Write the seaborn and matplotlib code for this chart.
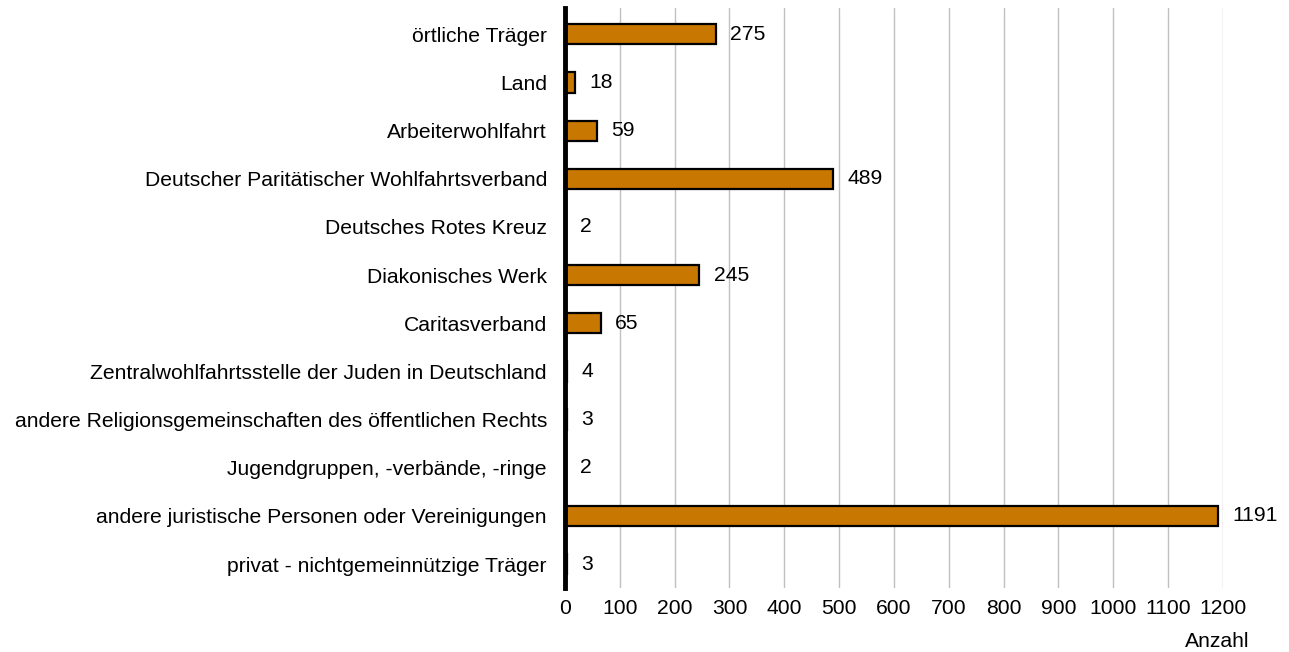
import pandas as pd
import matplotlib.pyplot as plt
import seaborn as sns

traeger = [
    "örtliche Träger",
    "Land",
    "Arbeiterwohlfahrt",
    "Deutscher Paritätischer Wohlfahrtsverband",
    "Deutsches Rotes Kreuz",
    "Diakonisches Werk",
    "Caritasverband",
    "Zentralwohlfahrtsstelle der Juden in Deutschland",
    "andere Religionsgemeinschaften des öffentlichen Rechts",
    "Jugendgruppen, -verbände, -ringe",
    "andere juristische Personen oder Vereinigungen",
    "privat - nichtgemeinnützige Träger",
]
anzahl = [275, 18, 59, 489, 2, 245, 65, 4, 3, 2, 1191, 3]
x_ticks = list(range(0, 1300, 100))

sns.set_style("white")
plt.rcParams["font.family"] = ["Liberation Sans", "DejaVu Sans"]
plt.rcParams["text.color"] = "black"
plt.rcParams["xtick.color"] = "black"
plt.rcParams["ytick.color"] = "black"
plt.rcParams["axes.labelcolor"] = "black"
FS = 15.2

df = pd.DataFrame({"traeger": traeger, "anzahl": anzahl})

fig = plt.figure(figsize=(12.89, 6.52), dpi=100)
ax = fig.add_axes([0.4383, 0.098, 0.5105, 0.89])

sns.barplot(data=df, y="traeger", x="anzahl", orient="h", color="#C87800",
            saturation=1, width=0.42, edgecolor="black", linewidth=1.6, ax=ax,
            zorder=3)

# value labels right of the bars
for i, v in enumerate(anzahl):
    ax.text(v + 26, i, str(v), va="center", ha="left", fontsize=FS,
            color="black", clip_on=False)

ax.set_xlim(0, 1200)
ax.set_ylim(11.5, -0.55)
ax.set_xticks(x_ticks)
ax.set_xticklabels([str(t) for t in x_ticks], fontsize=FS)
ax.tick_params(axis="y", labelsize=FS, length=0, pad=13)
ax.tick_params(axis="x", length=0, pad=8)
ax.set_ylabel("")
ax.set_xlabel("Anzahl", fontsize=FS)
ax.xaxis.set_label_coords(1.04, -0.075)
ax.xaxis.label.set_ha("right")

ax.grid(axis="x", color="#C0C0C0", linewidth=1, zorder=0)
ax.set_axisbelow(True)
for s in ["top", "right", "bottom"]:
    ax.spines[s].set_visible(False)
ax.spines["left"].set_linewidth(3.5)
ax.spines["left"].set_color("black")
ax.spines["left"].set_zorder(5)

fig.savefig("out.png", dpi=100)
